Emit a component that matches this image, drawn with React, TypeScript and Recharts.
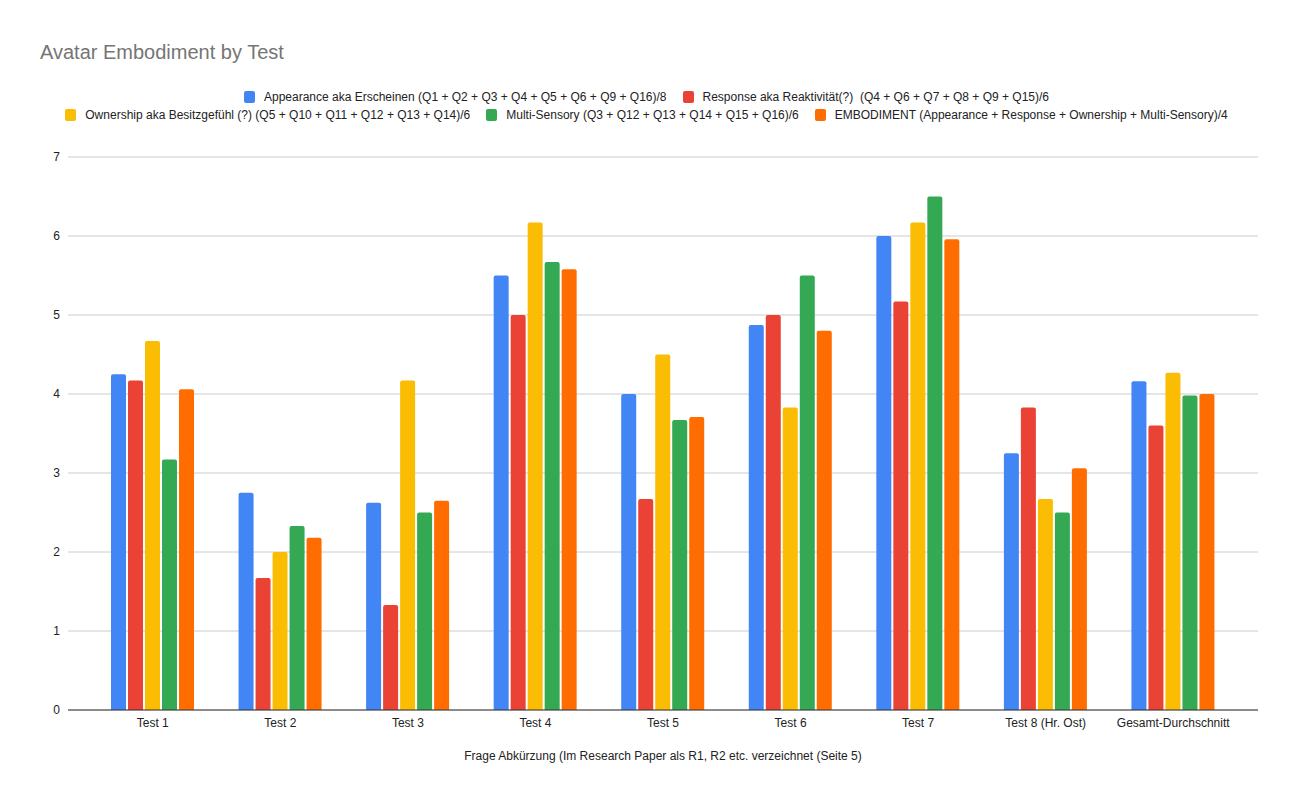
import React from "react";
import { BarChart, Bar, XAxis, YAxis, CartesianGrid } from "recharts";

const categories = ["Test 1", "Test 2", "Test 3", "Test 4", "Test 5", "Test 6", "Test 7", "Test 8 (Hr. Ost)", "Gesamt-Durchschnitt"];
const appearance = [4.25, 2.75, 2.625, 5.5, 4.0, 4.875, 6.0, 3.25, 4.16];
const response = [4.17, 1.67, 1.33, 5.0, 2.67, 5.0, 5.17, 3.83, 3.6];
const ownership = [4.67, 2.0, 4.17, 6.17, 4.5, 3.83, 6.17, 2.67, 4.27];
const multiSensory = [3.17, 2.33, 2.5, 5.67, 3.67, 5.5, 6.5, 2.5, 3.98];
const embodiment = [4.06, 2.18, 2.65, 5.58, 3.71, 4.8, 5.96, 3.06, 4.0];
const yTicks = [0, 1, 2, 3, 4, 5, 6, 7];

const seriesNames = [
  "Appearance aka Erscheinen (Q1 + Q2 + Q3 + Q4 + Q5 + Q6 + Q9 + Q16)/8",
  "Response aka Reaktivität(?)  (Q4 + Q6 + Q7 + Q8 + Q9 + Q15)/6",
  "Ownership aka Besitzgefühl (?) (Q5 + Q10 + Q11 + Q12 + Q13 + Q14)/6",
  "Multi-Sensory (Q3 + Q12 + Q13 + Q14 + Q15 + Q16)/6",
  "EMBODIMENT (Appearance + Response + Ownership + Multi-Sensory)/4",
];
const seriesColors = ["#4285F4", "#EA4335", "#FBBC04", "#34A853", "#FF6D01"];
const seriesKeys = ["appearance", "response", "ownership", "multiSensory", "embodiment"];

const data = categories.map((c, i) => ({
  name: c,
  appearance: appearance[i],
  response: response[i],
  ownership: ownership[i],
  multiSensory: multiSensory[i],
  embodiment: embodiment[i],
}));

const FONT = "'Liberation Sans', Arial, sans-serif";

const LegendBlock = () => {
  const rows = [[0, 1], [2, 3, 4]];
  return (
    <div style={{ position: "absolute", top: 88, left: -3, width: 1299, display: "flex", flexDirection: "column", alignItems: "center", fontFamily: FONT, fontSize: 12, color: "#222" }}>
      {rows.map((row, ri) => (
        <div key={ri} style={{ display: "flex", alignItems: "center", height: 18 }}>
          {row.map((idx) => (
            <div key={idx} style={{ display: "flex", alignItems: "center", marginLeft: 8, marginRight: 8 }}>
              <span style={{ display: "inline-block", width: 11, height: 12, borderRadius: 2, background: seriesColors[idx], marginRight: 9 }} />
              <span style={{ whiteSpace: "pre" }}>{seriesNames[idx]}</span>
            </div>
          ))}
        </div>
      ))}
    </div>
  );
};

export default function App() {
  return (
    <div style={{ position: "absolute", left: 0, top: 0, width: 1299, height: 803, background: "#fff" }}>
      <BarChart
        width={1299}
        height={803}
        data={data}
        margin={{ top: 157, right: 41, bottom: 43, left: 8 }}
        barCategoryGap={22}
        barGap={2}
      >
        <CartesianGrid vertical={false} stroke="#cccccc" />
        <XAxis
          dataKey="name"
          padding={{ left: 21, right: 21 }}
          tickLine={false}
          axisLine={{ stroke: "#333333" }}
          tick={{ fill: "#222", fontSize: 12, fontFamily: FONT }}
          tickMargin={2}
          interval={0}
          height={50}
          label={{ value: "Frage Abkürzung (Im Research Paper als R1, R2 etc. verzeichnet (Seite 5)", position: "insideBottom", offset: 0, fill: "#222", fontSize: 12, fontFamily: FONT }}
        />
        <YAxis
          width={60}
          domain={[0, 7]}
          ticks={yTicks}
          tickLine={false}
          axisLine={false}
          tick={{ fill: "#222", fontSize: 12, fontFamily: FONT }}
          tickMargin={2}
        />
        {seriesKeys.map((k, i) => (
          <Bar key={k} dataKey={k} name={seriesNames[i]} fill={seriesColors[i]} radius={[2, 2, 0, 0]} isAnimationActive={false} />
        ))}
      </BarChart>
      <div style={{ position: "absolute", left: 40, top: 41, fontFamily: FONT, fontSize: 20, color: "#757575" }}>
        Avatar Embodiment by Test
      </div>
      <LegendBlock />
    </div>
  );
}
